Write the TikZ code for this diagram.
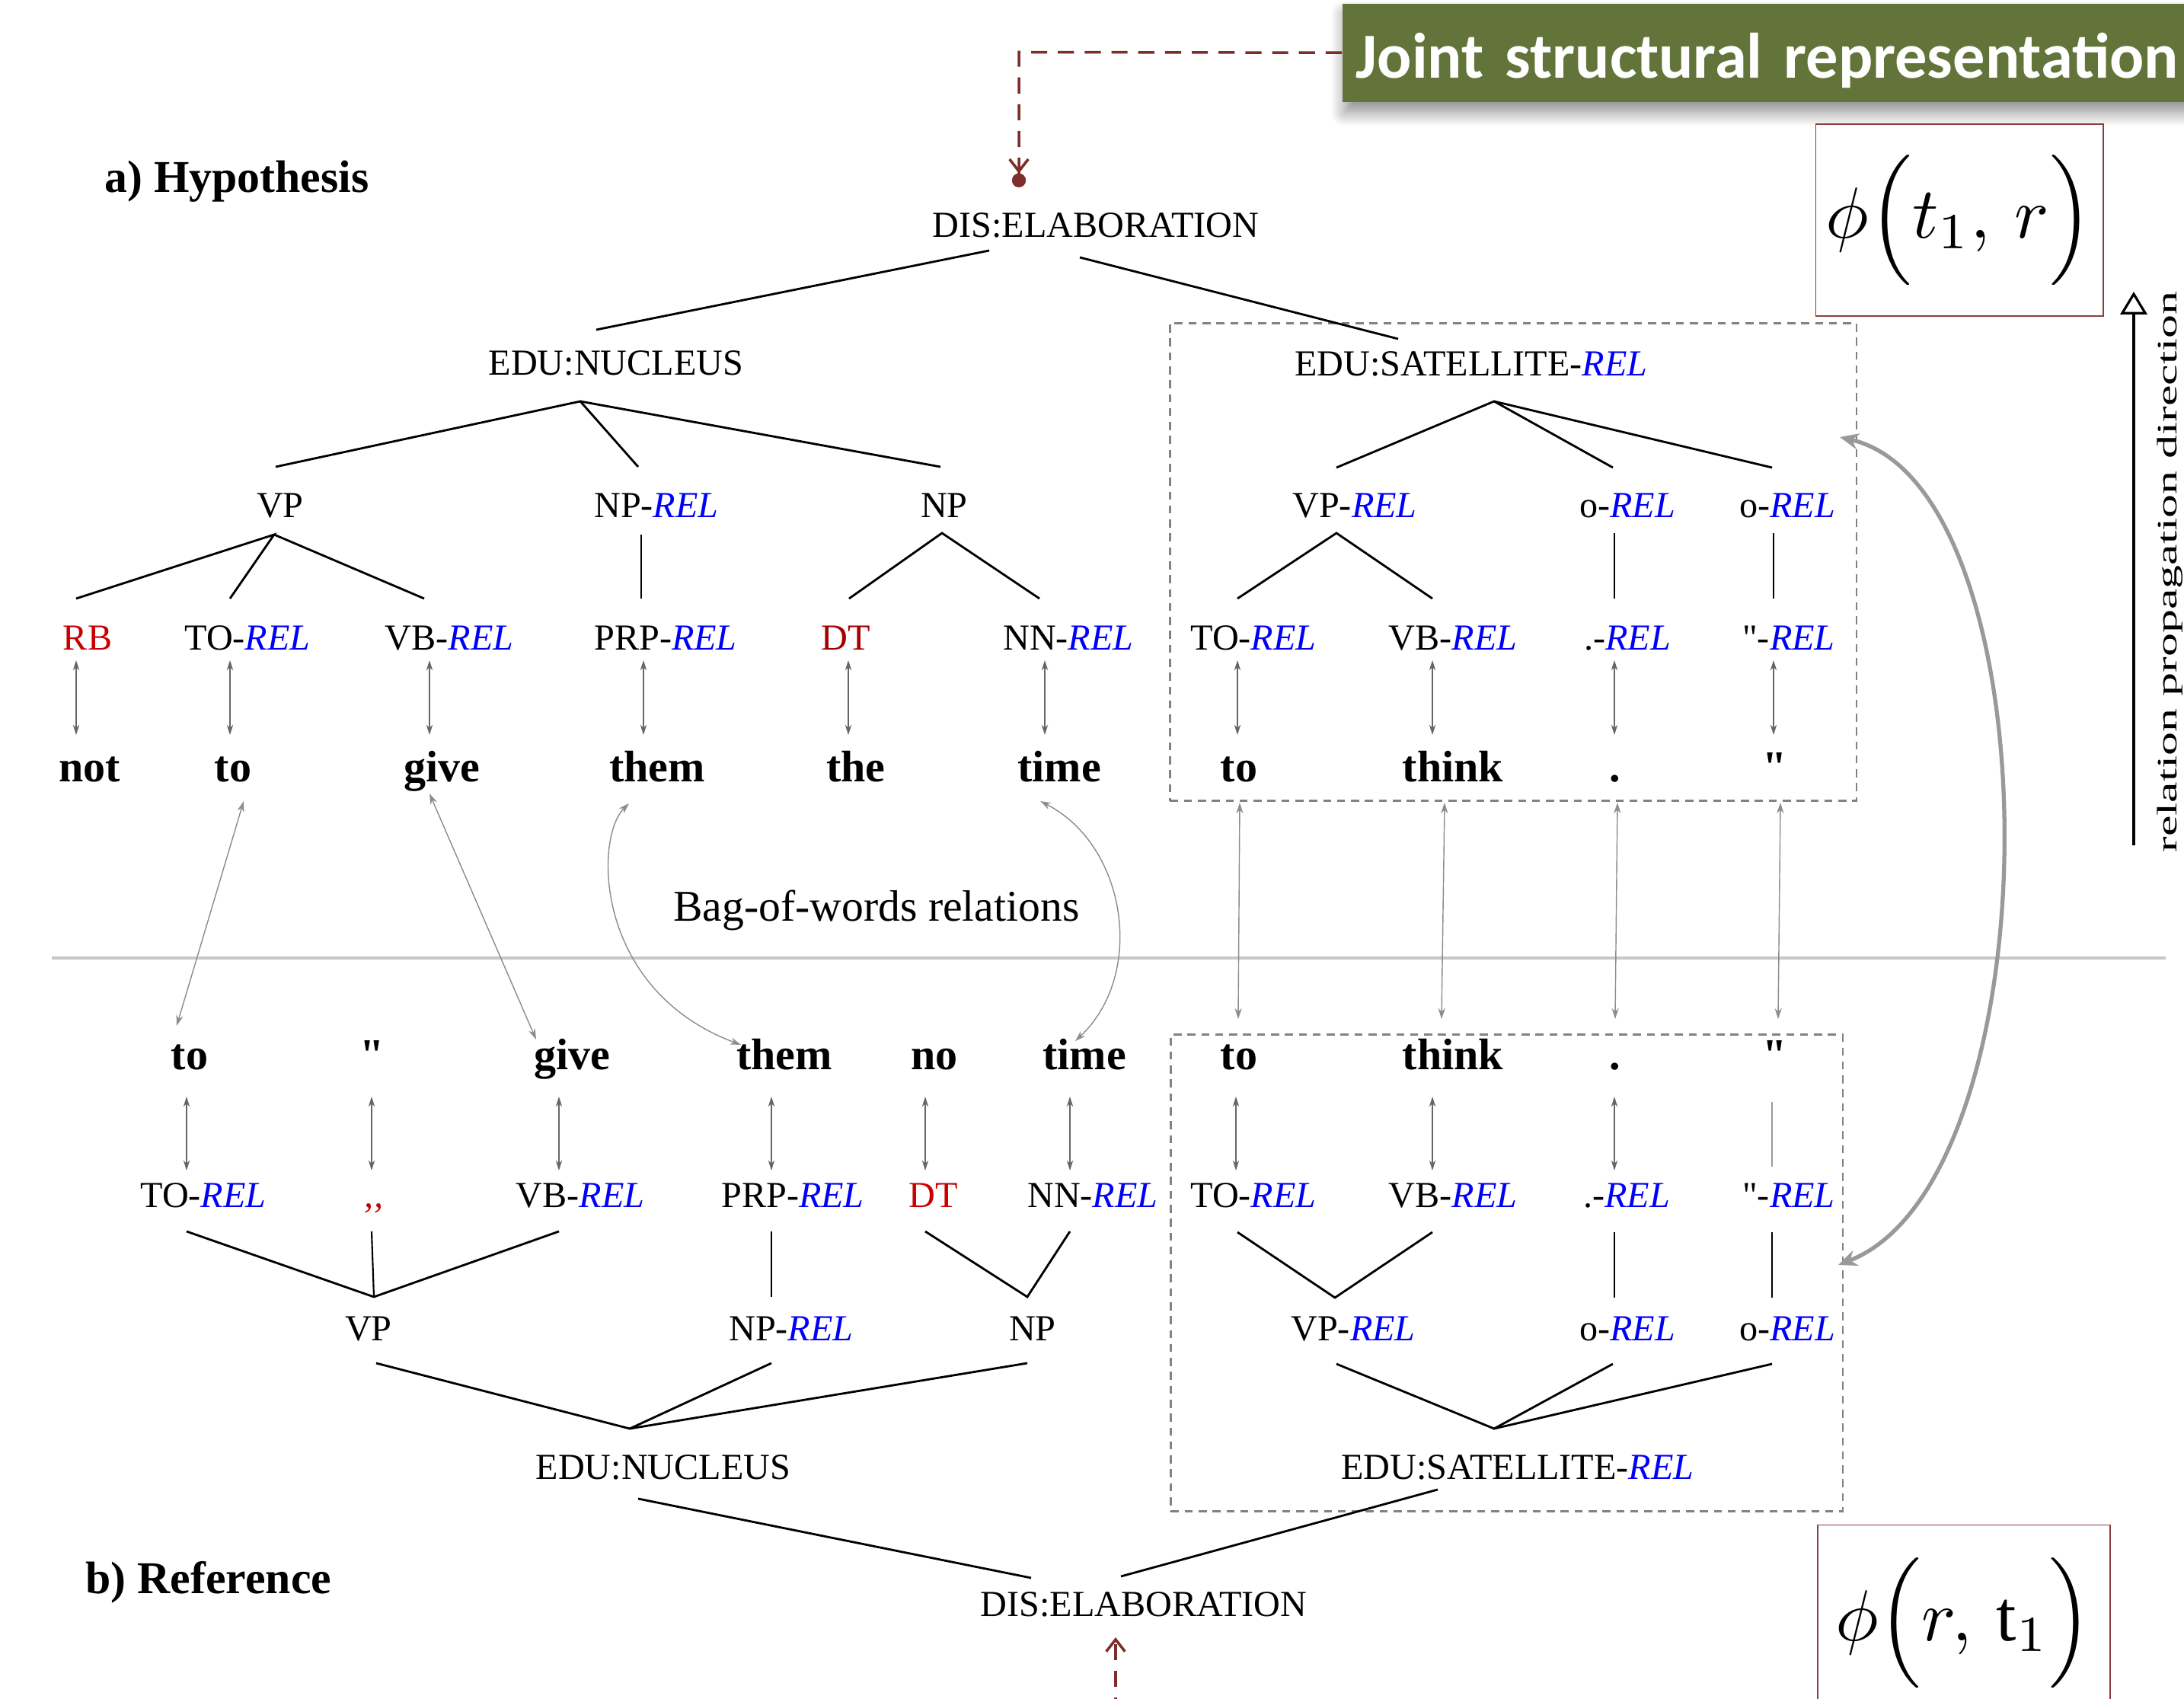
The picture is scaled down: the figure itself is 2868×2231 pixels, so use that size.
\documentclass[tikz,border=0pt]{standalone}
\usepackage{fontspec}
\setmainfont{Liberation Serif}
\newfontfamily\carlitofont{Carlito}
\usetikzlibrary{arrows.meta,shadows,shadows.blur}
\definecolor{relblue}{RGB}{0,0,250}
\definecolor{tagred}{RGB}{200,0,0}
\definecolor{dtred}{RGB}{165,0,0}
\definecolor{dkred}{RGB}{125,45,42}
\definecolor{boxgreen}{RGB}{99,116,58}
\definecolor{dashgray}{RGB}{130,130,130}
\definecolor{phired}{RGB}{140,60,60}
\newcommand{\relx}{\textcolor{relblue}{\textit{REL}}}
\newcommand{\phiexpr}[2]{\scalebox{2.7}{$\phi\Bigl(#1,\,#2\Bigr)$}}
\newcommand{\sq}{\textquotedbl}
\begin{document}
\begin{tikzpicture}[x=0.01cm,y=-0.01cm,
  lab/.style={anchor=base, inner sep=0pt, font=\fontsize{13.7}{16}\selectfont},
  wrd/.style={anchor=base, inner sep=0pt, font=\bfseries\fontsize{16.5}{19}\selectfont},
  ttl/.style={anchor=base, inner sep=0pt, font=\bfseries\fontsize{17}{20}\selectfont},
  edge/.style={line width=0.8pt, black},
  tok/.style={line width=0.35pt, draw=black!60, {Stealth[length=3.8pt,width=2.4pt]}-{Stealth[length=3.8pt,width=2.4pt]}},
  xlink/.style={line width=0.4pt, draw=black!45, {Stealth[length=4pt,width=2.6pt]}-{Stealth[length=4pt,width=2.6pt]}},
  dbox/.style={draw=dashgray, line width=0.8pt, dash pattern=on 3pt off 2.2pt, inner sep=0pt, anchor=north west},
  reddash/.style={draw=dkred, line width=1pt, dash pattern=on 6pt off 4pt},
  phibox/.style={draw=phired, line width=0.5pt, inner sep=0pt}
]
\useasboundingbox (0,0) rectangle (2868,2231);

% ---------- title box ----------
\node[fill=boxgreen, minimum height=1.29cm, anchor=north west, inner xsep=0.18cm, inner ysep=0pt,
      text width=11.3cm, align=left, text height=0.8cm, text depth=0.13cm, text=white,
      font=\carlitofont\bfseries\fontsize{24}{28}\selectfont,
      blur shadow={shadow xshift=0.03cm, shadow yshift=-0.14cm, shadow blur radius=0.18cm, shadow blur steps=12, shadow opacity=45}]
      (jointbox) at (1762,4) {Joint structural representation};
\coordinate (jcorner) at (1338,68.5);
\coordinate (jend) at (1338,246);
\draw[reddash, -{Straight Barb[length=4.5pt,width=7pt,line width=1pt] Circle[length=5.2pt]}] (jointbox.west) -- (jcorner) -- (jend);

% ---------- phi boxes ----------
\node[phibox, minimum width=3.77cm, minimum height=2.52cm] (phitop) at (2573,289) {\phiexpr{t_1}{r}};
\node[phibox, minimum width=3.84cm, minimum height=2.57cm] (phibot) at (2579,2131) {\phiexpr{r}{\mathrm{t}_1}};

% ---------- relation propagation direction ----------
\coordinate (rpBot) at (2802,1110);
\coordinate (rpTop) at (2802,383);
\draw[line width=0.9pt, -{Triangle[open,length=8.5pt,width=10pt,line width=0.9pt]}] (rpBot) -- (rpTop);
\node[rotate=90, anchor=base, inner sep=0pt, font=\fontsize{10.5}{12}\selectfont] (rpd) at (2858,751)
      {\scalebox{1.68}[1]{relation propagation direction}};

% ---------- dashed boxes ----------
\node[dbox, minimum width=9.01cm, minimum height=6.27cm] (hbox) at (1535,423) {};
\node[dbox, minimum width=8.82cm, minimum height=6.26cm] (rbox) at (1536,1357) {};

% ---------- separator ----------
\coordinate (sepL) at (68,1258);
\coordinate (sepR) at (2844,1258);
\draw[draw=black!22, line width=1pt] (sepL) -- (sepR);

% ---------- labels: hypothesis ----------
\node[ttl] (hyp) at (311,253) {a) Hypothesis};
\node[lab] (hdis) at (1439,312) {DIS:ELABORATION};
\node[lab] (hnuc) at (809,493) {EDU:NUCLEUS};
\node[lab] (hsat) at (1932,494) {EDU:SATELLITE-\relx};
\node[lab] (hvp) at (368,680) {VP};
\node[lab] (hnpr) at (862,680) {NP-\relx};
\node[lab] (hnp) at (1240,680) {NP};
\node[lab] (hvpr) at (1779,680) {VP-\relx};
\node[lab] (hor1) at (2137,680) {o-\relx};
\node[lab] (hor2) at (2347,680) {o-\relx};

\node[lab] (hpRB) at (115,854) {\textcolor{tagred}{RB}};
\node[lab] (hpTO) at (325,854) {TO-\relx};
\node[lab] (hpVB) at (590,854) {VB-\relx};
\node[lab] (hpPRP) at (874,854) {PRP-\relx};
\node[lab] (hpDT) at (1111,854) {\textcolor{dtred}{DT}};
\node[lab] (hpNN) at (1403,854) {NN-\relx};
\node[lab] (hpTO2) at (1646,854) {TO-\relx};
\node[lab] (hpVB2) at (1908,854) {VB-\relx};
\node[lab] (hpDOT) at (2137,854) {.-\relx};
\node[lab] (hpQ) at (2349,854) {\sq-\relx};

\node[wrd] (hw1) at (118,1027) {not};
\node[wrd] (hw2) at (306,1027) {to};
\node[wrd] (hw3) at (580,1027) {give};
\node[wrd] (hw4) at (863,1027) {them};
\node[wrd] (hw5) at (1124,1027) {the};
\node[wrd] (hw6) at (1391,1027) {time};
\node[wrd] (hw7) at (1627,1027) {to};
\node[wrd] (hw8) at (1908,1027) {think};
\node[wrd] (hw9) at (2121,1027) {.};
\node[wrd] (hw10) at (2331,1027) {\sq};

% ---------- hypothesis tree edges ----------
\coordinate (hDisL) at (1299,329);  \coordinate (hNucTop) at (783,433);
\coordinate (hDisR) at (1418,338);  \coordinate (hSatTop) at (1836,445);
\draw[edge] (hDisL) -- (hNucTop);
\draw[edge] (hDisR) -- (hSatTop);
\coordinate (hNucApex) at (762,527);
\coordinate (hVPtop) at (362,613);
\coordinate (hNPRtop) at (838,613);
\coordinate (hNPtop) at (1235,613);
\draw[edge] (hVPtop) -- (hNucApex) -- (hNPRtop);
\draw[edge] (hNucApex) -- (hNPtop);
\coordinate (hSatApex) at (1962,527);
\coordinate (hVPRtop) at (1755,614);
\coordinate (hOR1top) at (2118,614);
\coordinate (hOR2top) at (2327,614);
\draw[edge] (hVPRtop) -- (hSatApex) -- (hOR1top);
\draw[edge] (hSatApex) -- (hOR2top);
\coordinate (hVPapex) at (360,702);
\coordinate (hRBt) at (100,786);
\coordinate (hTOt) at (302,786);
\coordinate (hVBt) at (557,786);
\draw[edge] (hRBt) -- (hVPapex) -- (hTOt);
\draw[edge] (hVPapex) -- (hVBt);
\coordinate (hNPRbot) at (842,702);
\coordinate (hPRPt) at (842,786);
\draw[edge] (hNPRbot) -- (hPRPt);
\coordinate (hNPapex) at (1237,700);
\coordinate (hDTt) at (1115,786);
\coordinate (hNNt) at (1365,786);
\draw[edge] (hDTt) -- (hNPapex) -- (hNNt);
\coordinate (hVPRapex) at (1755,700);
\coordinate (hTO2t) at (1625,786);
\coordinate (hVB2t) at (1881,786);
\draw[edge] (hTO2t) -- (hVPRapex) -- (hVB2t);
\coordinate (hOR1bot) at (2120,700);
\coordinate (hDOTt) at (2120,786);
\draw[edge] (hOR1bot) -- (hDOTt);
\coordinate (hOR2bot) at (2329,700);
\coordinate (hQt) at (2329,786);
\draw[edge] (hOR2bot) -- (hQt);

\foreach \x [count=\i] in {100,302,564,845,1114,1372,1625,1881,2120,2329}{
  \coordinate (hta\i) at (\x,867);
  \coordinate (htb\i) at (\x,965);
  \draw[tok] (hta\i) -- (htb\i);
}

% ---------- bag of words ----------
\node[anchor=base, inner sep=0pt, font=\fontsize{16.4}{19}\selectfont] (bow) at (1151,1210) {Bag-of-words relations};

% ---------- reference labels ----------
\node[wrd] (rw1) at (249,1405) {to};
\node[wrd] (rw2) at (489,1405) {\sq};
\node[wrd] (rw3) at (751,1405) {give};
\node[wrd] (rw4) at (1030,1405) {them};
\node[wrd] (rw5) at (1227,1405) {no};
\node[wrd] (rw6) at (1424,1405) {time};
\node[wrd] (rw7) at (1627,1405) {to};
\node[wrd] (rw8) at (1908,1405) {think};
\node[wrd] (rw9) at (2121,1405) {.};
\node[wrd] (rw10) at (2331,1405) {\sq};

\node[lab] (rpTO) at (267,1585) {TO-\relx};
\node[lab] (rpQQ) at (491,1585) {\textcolor{tagred}{\textit{,{},}}};
\node[lab] (rpVB) at (762,1585) {VB-\relx};
\node[lab] (rpPRP) at (1041,1585) {PRP-\relx};
\node[lab] (rpDT) at (1226,1585) {\textcolor{tagred}{DT}};
\node[lab] (rpNN) at (1435,1585) {NN-\relx};
\node[lab] (rpTO2) at (1646,1585) {TO-\relx};
\node[lab] (rpVB2) at (1908,1585) {VB-\relx};
\node[lab] (rpDOT) at (2136,1585) {.-\relx};
\node[lab] (rpQ) at (2349,1585) {\sq-\relx};

\node[lab] (rvp) at (484,1760) {VP};
\node[lab] (rnpr) at (1039,1760) {NP-\relx};
\node[lab] (rnp) at (1356,1760) {NP};
\node[lab] (rvpr) at (1777,1760) {VP-\relx};
\node[lab] (ror1) at (2137,1760) {o-\relx};
\node[lab] (ror2) at (2347,1760) {o-\relx};

\node[lab] (rnuc) at (871,1942) {EDU:NUCLEUS};
\node[lab] (rsat) at (1993,1942) {EDU:SATELLITE-\relx};
\node[lab] (rdis) at (1502,2122) {DIS:ELABORATION};
\node[ttl] (refl) at (274,2092) {b) Reference};

\foreach \x [count=\i] in {245,488,734,1013,1215,1405,1623,1881,2120}{
  \coordinate (rta\i) at (\x,1440);
  \coordinate (rtb\i) at (\x,1537);
  \draw[tok] (rta\i) -- (rtb\i);
}
\coordinate (rqa) at (2327,1447);
\coordinate (rqb) at (2327,1532);
\draw[line width=0.35pt, draw=black!40] (rqa) -- (rqb);

% ---------- reference tree edges ----------
\coordinate (rVPapex) at (491,1703);
\coordinate (rTOb) at (245,1617);
\coordinate (rQQb) at (488,1617);
\coordinate (rVBb) at (734,1617);
\draw[edge] (rTOb) -- (rVPapex) -- (rVBb);
\draw[line width=0.6pt] (rQQb) -- (rVPapex);
\coordinate (rPRPb) at (1013,1617);
\coordinate (rNPRt) at (1013,1703);
\draw[edge, line width=0.6pt] (rPRPb) -- (rNPRt);
\coordinate (rNPapex) at (1349,1703);
\coordinate (rDTb) at (1215,1617);
\coordinate (rNNb) at (1405,1617);
\draw[edge] (rDTb) -- (rNPapex) -- (rNNb);
\coordinate (rVPRapex) at (1753,1704);
\coordinate (rTO2b) at (1625,1618);
\coordinate (rVB2b) at (1881,1618);
\draw[edge] (rTO2b) -- (rVPRapex) -- (rVB2b);
\coordinate (rDOTb) at (2120,1618);
\coordinate (rOR1t) at (2120,1704);
\draw[edge] (rDOTb) -- (rOR1t);
\coordinate (rQb) at (2327,1618);
\coordinate (rOR2t) at (2327,1704);
\draw[edge] (rQb) -- (rOR2t);

\coordinate (rNucApex) at (827,1876);
\coordinate (rVPb) at (494,1790);
\coordinate (rNPRb) at (1013,1790);
\coordinate (rNPb) at (1349,1790);
\draw[edge] (rVPb) -- (rNucApex) -- (rNPRb);
\draw[edge] (rNucApex) -- (rNPb);
\coordinate (rSatApex) at (1962,1876);
\coordinate (rVPRb) at (1755,1791);
\coordinate (rOR1b) at (2118,1791);
\coordinate (rOR2b) at (2327,1791);
\draw[edge] (rVPRb) -- (rSatApex) -- (rOR1b);
\draw[edge] (rSatApex) -- (rOR2b);

\coordinate (rNucBot) at (838,1968);
\coordinate (rDisL) at (1354,2072);
\coordinate (rSatBot) at (1888,1956);
\coordinate (rDisR) at (1472,2070);
\draw[edge] (rNucBot) -- (rDisL);
\draw[edge] (rSatBot) -- (rDisR);

% bottom red dashed arrow
\coordinate (rstart) at (1465,2250);
\coordinate (rtip) at (1465,2150);
\draw[reddash, -{Straight Barb[length=4.5pt,width=7pt,line width=1pt]}] (rstart) -- (rtip);

% ---------- cross links ----------
\coordinate (xa1) at (320,1052);  \coordinate (xb1) at (232,1347);
\draw[xlink] (xa1) -- (xb1);
\coordinate (xa2) at (564,1042);  \coordinate (xb2) at (704,1365);
\draw[xlink] (xa2) -- (xb2);
\coordinate (xa3) at (826,1055);  \coordinate (xb3) at (973,1372);
\draw[xlink] (xa3) .. controls (780,1100) and (780,1300) .. (xb3);
\coordinate (xa4) at (1366,1052); \coordinate (xb4) at (1412,1367);
\draw[xlink] (xa4) .. controls (1480,1110) and (1505,1280) .. (xb4);
\coordinate (xa5) at (1628,1054); \coordinate (xb5) at (1626,1338);
\draw[xlink] (xa5) -- (xb5);
\coordinate (xa6) at (1897,1054); \coordinate (xb6) at (1893,1338);
\draw[xlink] (xa6) -- (xb6);
\coordinate (xa7) at (2124,1054); \coordinate (xb7) at (2121,1338);
\draw[xlink] (xa7) -- (xb7);
\coordinate (xa8) at (2338,1054); \coordinate (xb8) at (2335,1338);
\draw[xlink] (xa8) -- (xb8);

% ---------- big curved arrow ----------
\coordinate (cvTop) at (2416,574);
\coordinate (cvBot) at (2414,1661);
\draw[draw=black!40, line width=1.5pt, {Stealth[length=7pt,width=6pt]}-{Stealth[length=7pt,width=6pt]}]
  (cvTop) .. controls (2700,640) and (2700,1550) .. (cvBot);
\end{tikzpicture}
\end{document}
